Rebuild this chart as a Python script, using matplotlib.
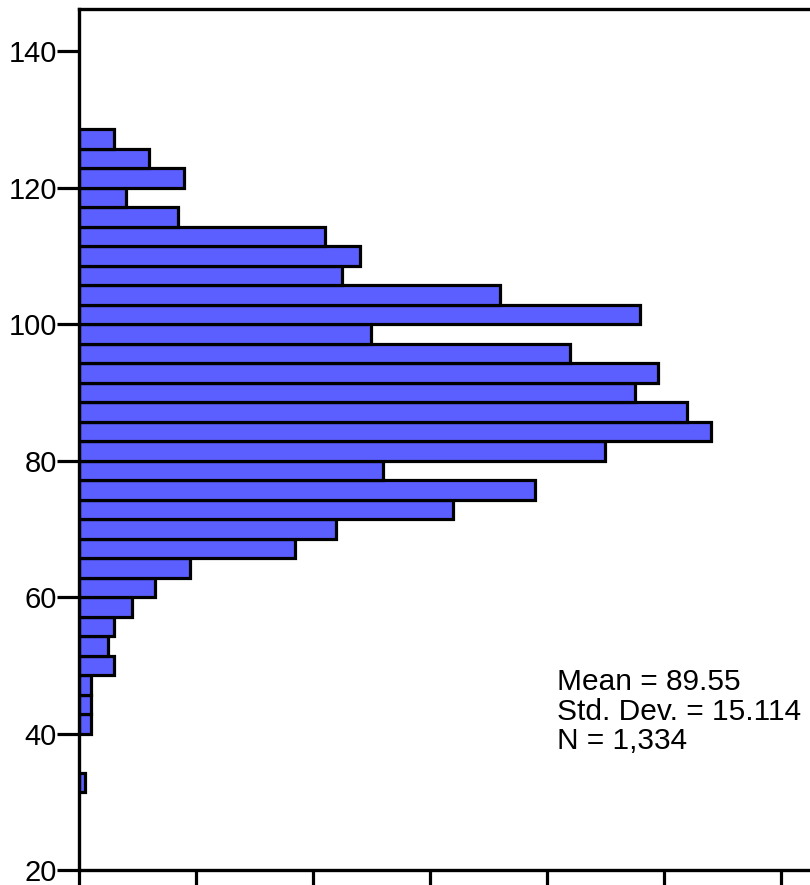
import matplotlib

matplotlib.use("Agg")
import matplotlib.pyplot as plt
import numpy as np

plt.rcParams['font.family'] = ['Liberation Sans', 'DejaVu Sans']

# histogram data (bins of width 20/7, bottom to top)
bin_width = 20 / 7
first_edge = 20 + 4 * bin_width
counts = [1, 0, 0, 2, 2, 2, 6, 5, 6, 9, 13, 19, 37, 44, 64, 78, 52, 90,
          108, 104, 95, 99, 84, 50, 96, 72, 45, 48, 42, 17, 8, 18, 12, 6]
y_ticks = [20, 40, 60, 80, 100, 120, 140]
x_ticks = [0, 20, 40, 60, 80, 100, 120]
stats_lines = ["Mean = 89.55", "Std. Dev. = 15.114", "N = 1,334"]

bin_lo = first_edge + bin_width * np.arange(len(counts))

fig = plt.figure(figsize=(8.1, 8.85), dpi=100)
fig.patch.set_facecolor('white')
ax = fig.add_axes([79 / 810, 15 / 885, 1 - 79 / 810, 861 / 885])

mask = np.array(counts) > 0
ax.barh(bin_lo[mask], np.array(counts)[mask], height=bin_width, align='edge',
        color='#5b5fff', edgecolor='black', linewidth=2.3, zorder=2)

ax.set_ylim(20, 146.2)
ax.set_xlim(0, 125)
ax.set_yticks(y_ticks)
ax.set_xticks(x_ticks)
ax.set_xticklabels([])
ax.tick_params(axis='both', direction='out', length=16, width=2.3,
               labelsize=21, pad=0, colors='black')

for side in ['left', 'bottom', 'top']:
    ax.spines[side].set_linewidth(2.4)
    ax.spines[side].set_zorder(5)
ax.spines['right'].set_visible(False)

for i, line in enumerate(stats_lines):
    fig.text(557 / 810, 1 - (682 + i * 29.5) / 885, line, fontsize=21.5,
             ha='left', va='center', color='black')

fig.savefig("out.png", dpi=100, facecolor='white')
